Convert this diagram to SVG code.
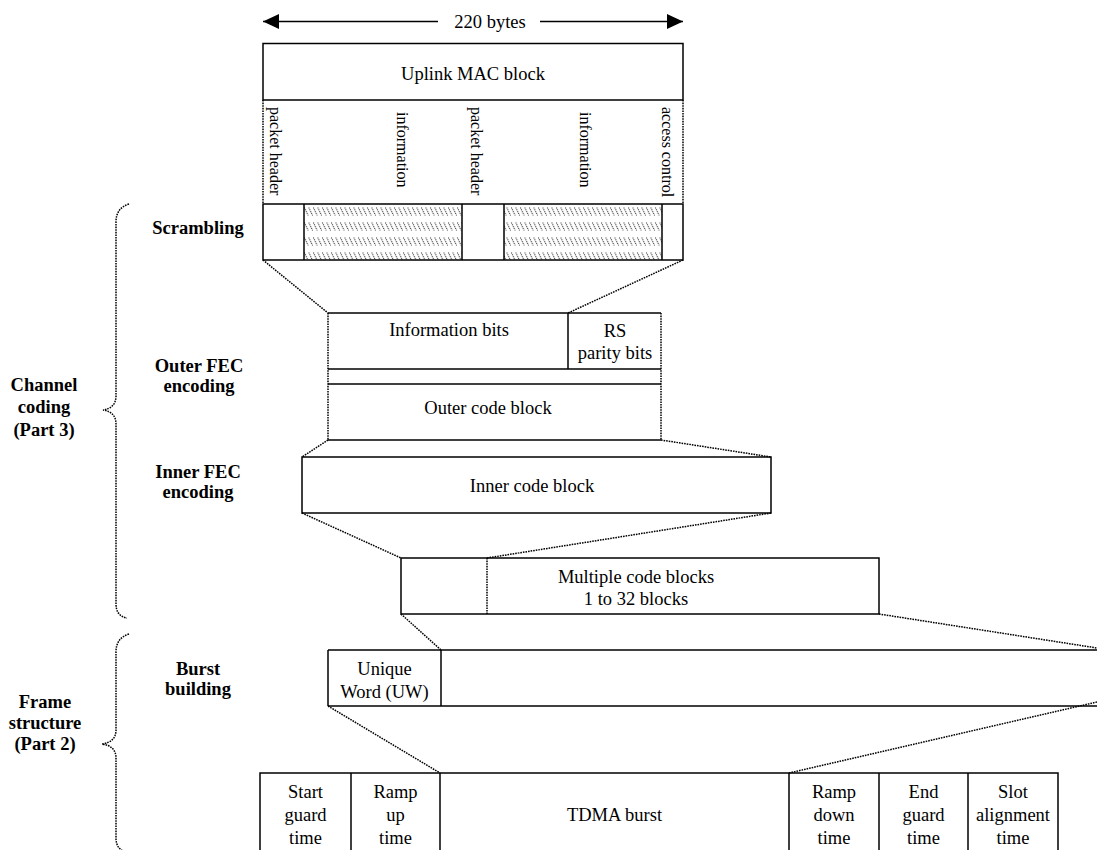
<svg xmlns="http://www.w3.org/2000/svg" width="1097" height="850" viewBox="0 0 1097 850">
<style>
text{font-family:"Liberation Serif","Times New Roman",serif;font-size:18.5px;fill:#000}
.b{font-weight:bold}
.m{text-anchor:middle}
.v{font-size:16px}
.s{fill:none;stroke:#000;stroke-width:1.5}
.d{fill:none;stroke:#000;stroke-width:1.5;stroke-dasharray:1.6 1}
</style>
<defs>
<pattern id="hatch" patternUnits="userSpaceOnUse" x="304" y="205" width="4.5" height="15">
<line x1="0.3" y1="2.5" x2="4.2" y2="10.5" stroke="#333" stroke-width="1" stroke-dasharray="1.2 0.8"/>
</pattern>
</defs>

<g id="connectors">
<line class="s" x1="263" y1="21.5" x2="438" y2="21.5"/>
<line class="s" x1="540" y1="21.5" x2="683" y2="21.5"/>
<polygon points="263,21.5 279,14 279,29" fill="#000"/>
<polygon points="683,21.5 667,14 667,29" fill="#000"/>
<line class="d" x1="263" y1="260" x2="328" y2="313"/>
<line class="d" x1="683" y1="260" x2="568" y2="313"/>
<line class="d" x1="328" y1="440" x2="302" y2="457"/>
<line class="d" x1="661" y1="440" x2="771" y2="457"/>
<line class="d" x1="302" y1="513" x2="401" y2="558"/>
<line class="d" x1="771" y1="513" x2="487" y2="558"/>
<line class="d" x1="401" y1="614" x2="441" y2="650"/>
<line class="d" x1="879" y1="614" x2="1097" y2="648"/>
<line class="d" x1="328" y1="706" x2="440" y2="773"/>
<line class="d" x1="1097" y1="702" x2="789" y2="773"/>
</g>

<g id="braces">
<path class="d" d="M129,204 Q116,208 116,222 L116,396 Q116,408 103,410 Q116,412 116,424 L116,604 Q116,616 127,618"/>
<path class="d" d="M129,634 Q116,638 116,652 L116,730 Q116,742 102,744 Q116,746 116,758 L116,838 Q116,850 127,852"/>
</g>

<g id="size-label">
<text class="m" x="490" y="27.5">220 bytes</text>
</g>

<g id="uplink-mac">
<rect class="s" x="263" y="43.5" width="420" height="56.5"/>
<text class="m" x="473" y="80">Uplink MAC block</text>
<line class="d" x1="263" y1="100" x2="263" y2="204"/>
<line class="d" x1="683" y1="100" x2="683" y2="204"/>
<text class="v" transform="translate(270,107) rotate(90)">packet header</text>
<text class="v" transform="translate(397,112) rotate(90)">information</text>
<text class="v" transform="translate(471,107) rotate(90)">packet header</text>
<text class="v" transform="translate(580,112) rotate(90)">information</text>
<text class="v" transform="translate(662,107) rotate(90)">access control</text>
</g>

<g id="scrambling">
<rect x="304" y="204" width="158" height="56" fill="url(#hatch)"/>
<rect x="504" y="204" width="158" height="56" fill="url(#hatch)"/>
<rect class="s" x="263" y="204" width="420" height="56"/>
<line class="s" x1="304" y1="204" x2="304" y2="260"/>
<line class="s" x1="462" y1="204" x2="462" y2="260"/>
<line class="s" x1="504" y1="204" x2="504" y2="260"/>
<line class="s" x1="662" y1="204" x2="662" y2="260"/>
</g>

<g id="outer-fec">
<line class="s" x1="328" y1="313" x2="661" y2="313"/>
<line class="s" x1="328" y1="369" x2="661" y2="369"/>
<line class="s" x1="568" y1="313" x2="568" y2="369"/>
<line class="s" x1="328" y1="384" x2="661" y2="384"/>
<line class="s" x1="328" y1="440" x2="661" y2="440"/>
<line class="d" x1="328" y1="313" x2="328" y2="440"/>
<line class="d" x1="661" y1="313" x2="661" y2="440"/>
<text class="m" x="449" y="336">Information bits</text>
<text class="m" x="615" y="337">RS</text>
<text class="m" x="615" y="359">parity bits</text>
<text class="m" x="488" y="414">Outer code block</text>
</g>

<g id="inner-code-block">
<rect class="s" x="302" y="457" width="469" height="56"/>
<text class="m" x="532" y="492">Inner code block</text>
</g>

<g id="multiple-code-blocks">
<rect class="s" x="401" y="558" width="478" height="56"/>
<line class="d" x1="487" y1="558" x2="487" y2="614"/>
<text class="m" x="636" y="583">Multiple code blocks</text>
<text class="m" x="636" y="605">1 to 32 blocks</text>
</g>

<g id="burst">
<line class="s" x1="328" y1="650" x2="1097" y2="650"/>
<line class="s" x1="328" y1="706" x2="1097" y2="706"/>
<line class="s" x1="328" y1="650" x2="328" y2="706"/>
<line class="s" x1="441" y1="650" x2="441" y2="706"/>
<text class="m" x="384.5" y="675">Unique</text>
<text class="m" x="384.5" y="698">Word (UW)</text>
</g>

<g id="tdma-frame">
<rect class="s" x="260" y="773" width="798" height="90"/>
<line class="s" x1="351" y1="773" x2="351" y2="860"/>
<line class="s" x1="440" y1="773" x2="440" y2="860"/>
<line class="s" x1="789" y1="773" x2="789" y2="860"/>
<line class="s" x1="879" y1="773" x2="879" y2="860"/>
<line class="s" x1="968" y1="773" x2="968" y2="860"/>
<text class="m" x="305.5" y="798">Start</text>
<text class="m" x="305.5" y="821">guard</text>
<text class="m" x="305.5" y="844">time</text>
<text class="m" x="395.5" y="798">Ramp</text>
<text class="m" x="395.5" y="821">up</text>
<text class="m" x="395.5" y="844">time</text>
<text class="m" x="614.5" y="821">TDMA burst</text>
<text class="m" x="834" y="798">Ramp</text>
<text class="m" x="834" y="821">down</text>
<text class="m" x="834" y="844">time</text>
<text class="m" x="923.5" y="798">End</text>
<text class="m" x="923.5" y="821">guard</text>
<text class="m" x="923.5" y="844">time</text>
<text class="m" x="1013" y="798">Slot</text>
<text class="m" x="1013" y="821">alignment</text>
<text class="m" x="1013" y="844">time</text>
</g>

<g id="step-labels">
<text class="b m" x="198" y="234">Scrambling</text>
<text class="b m" x="199" y="372">Outer FEC</text>
<text class="b m" x="199" y="392">encoding</text>
<text class="b m" x="198" y="478">Inner FEC</text>
<text class="b m" x="198" y="498">encoding</text>
<text class="b m" x="198" y="675">Burst</text>
<text class="b m" x="198" y="695">building</text>
</g>

<g id="part-labels">
<text class="b m" x="44" y="391">Channel</text>
<text class="b m" x="44" y="413">coding</text>
<text class="b m" x="44" y="436">(Part 3)</text>
<text class="b m" x="45" y="708">Frame</text>
<text class="b m" x="45" y="729">structure</text>
<text class="b m" x="45" y="750">(Part 2)</text>
</g>
</svg>
